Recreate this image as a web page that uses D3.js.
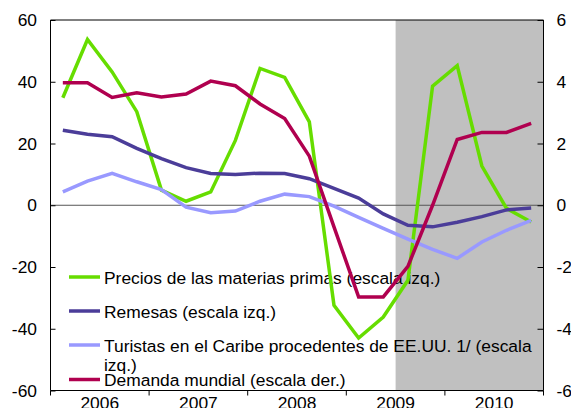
<!DOCTYPE html>
<html>
<head>
<meta charset="utf-8">
<script src="https://cdn.jsdelivr.net/npm/d3@7"></script>
<style>
  body { margin: 0; background: #fff; }
  svg { display: block; font-family: "Liberation Sans", Arial, sans-serif; }
</style>
</head>
<body>
<div id="chart"></div>
<script>
// quarterly data, 2006Q1 - 2010Q4
var years = ["2006", "2007", "2008", "2009", "2010"];
var quarters = [];
years.forEach(function(y) {
    for (var q = 1; q <= 4; q++) quarters.push(y + "Q" + q);
});

var precios = [34.8, 53.7, 43.2, 30.3, 4.9, 1.3, 4.3, 21.0, 44.3, 41.4,
               27.0, -32.4, -43.0, -36.2, -24.3, 38.6, 45.2, 12.7, -1.0, -5.4];
var remesas = [24.3, 23.0, 22.2, 18.4, 15.1, 12.2, 10.3, 10.0, 10.4, 10.3,
               8.6, 5.5, 2.3, -2.8, -6.5, -7.0, -5.5, -3.7, -1.5, -0.9];
var turistas = [4.3, 7.8, 10.3, 7.6, 5.1, -0.6, -2.4, -1.9, 1.3, 3.6,
                2.8, -0.3, -3.9, -7.5, -11.0, -14.3, -17.2, -11.9, -8.1, -4.9];
// right axis
var demanda = [3.97, 3.97, 3.49, 3.64, 3.51, 3.60, 4.02, 3.87, 3.28, 2.81,
               1.59, -0.7, -2.97, -2.97, -1.98, 0.0, 2.13, 2.36, 2.36, 2.65];

var leftTicks = [-60, -40, -20, 0, 20, 40, 60];
var rightTicks = [-6, -4, -2, 0, 2, 4, 6];
var shadeFrom = "2009Q3";

var W = 571, H = 408;
var mLeft = 50.5, mRight = 543.5, mTop = 20, mBottom = 390.5;
var fs = 17.4;

var svg = d3.select("#chart").append("svg")
    .attr("width", W)
    .attr("height", H);

var x = d3.scaleBand().domain(quarters).range([mLeft, mRight]).padding(0);
var yL = d3.scaleLinear().domain([-60, 60]).range([mBottom, mTop]);
var yR = d3.scaleLinear().domain([-6, 6]).range([mBottom, mTop]);

// shaded period
svg.append("rect")
    .attr("x", x(shadeFrom))
    .attr("y", mTop)
    .attr("width", mRight - x(shadeFrom))
    .attr("height", mBottom - mTop)
    .attr("fill", "#c0c0c0");

// zero line
svg.append("line")
    .attr("x1", mLeft).attr("x2", mRight)
    .attr("y1", yL(0)).attr("y2", yL(0))
    .attr("stroke", "#555")
    .attr("stroke-width", 1);

// frame top
svg.append("line")
    .attr("x1", mLeft).attr("x2", mRight)
    .attr("y1", mTop).attr("y2", mTop)
    .attr("stroke", "#000")
    .attr("stroke-width", 1);

var series = [
    { name: "Precios", values: precios, scale: yL, color: "#66dd00" },
    { name: "Remesas", values: remesas, scale: yL, color: "#4b3d99" },
    { name: "Turistas", values: turistas, scale: yL, color: "#9999ff" },
    { name: "Demanda", values: demanda, scale: yR, color: "#b0004f" }
];

var legendItems = [
    { lines: ["Precios de las materias primas (escala izq.)"], color: "#66dd00", y: 277 },
    { lines: ["Remesas (escala izq.)"], color: "#4b3d99", y: 311 },
    { lines: ["Turistas en el Caribe procedentes de EE.UU. 1/ (escala", "izq.)"], color: "#9999ff", y: 345 },
    { lines: ["Demanda mundial (escala der.)"], color: "#b0004f", y: 379.5 }
];

// legend (drawn under the lines, as in the original)
var leg = svg.append("g");
legendItems.forEach(function(d) {
    leg.append("line")
        .attr("x1", 69).attr("x2", 100)
        .attr("y1", d.y).attr("y2", d.y)
        .attr("stroke", d.color)
        .attr("stroke-width", 3.5);
    var t = leg.append("text")
        .attr("x", 104)
        .attr("y", d.y + 6.5)
        .attr("font-size", fs)
        .attr("fill", "#000");
    d.lines.forEach(function(s, i) {
        t.append("tspan")
            .attr("x", 104)
            .attr("dy", i === 0 ? 0 : 19)
            .text(s);
    });
});

series.forEach(function(s) {
    var line = d3.line()
        .x(function(d, i) { return x(quarters[i]) + x.bandwidth() / 2; })
        .y(function(d) { return s.scale(d); });
    svg.append("path")
        .datum(s.values)
        .attr("d", line)
        .attr("fill", "none")
        .attr("stroke", s.color)
        .attr("stroke-width", 3.5)
        .attr("stroke-linejoin", "miter");
});

// left axis, ticks pointing in
var axL = svg.append("g")
    .attr("transform", "translate(" + mLeft + ",0)")
    .call(d3.axisRight(yL).tickValues(leftTicks).tickSize(5));
axL.selectAll("text").remove();
axL.select(".domain").attr("d", "M0," + mTop + "V" + mBottom);
svg.selectAll(".lbl-left")
    .data(leftTicks)
    .enter().append("text")
    .attr("x", 37)
    .attr("y", function(d) { return yL(d) + 6; })
    .attr("text-anchor", "end")
    .attr("font-size", fs)
    .text(function(d) { return d; });

// right axis, ticks pointing in
var axR = svg.append("g")
    .attr("transform", "translate(" + mRight + ",0)")
    .call(d3.axisLeft(yR).tickValues(rightTicks).tickSize(6));
axR.selectAll("text").remove();
axR.select(".domain").attr("d", "M0," + mTop + "V" + mBottom);
svg.selectAll(".lbl-right")
    .data(rightTicks)
    .enter().append("text")
    .attr("x", 556.5)
    .attr("y", function(d) { return yR(d) + 6; })
    .attr("text-anchor", "start")
    .attr("font-size", fs)
    .text(function(d) { return d; });

// bottom axis: ticks at year boundaries, labels centred in each year
var xYear = d3.scaleBand().domain(years).range([mLeft, mRight]).padding(0);
var ax = svg.append("g");
ax.append("line")
    .attr("x1", mLeft).attr("x2", mRight)
    .attr("y1", mBottom).attr("y2", mBottom)
    .attr("stroke", "#000");
var bounds = years.map(function(y) { return xYear(y); }).concat([mRight]);
ax.selectAll(".tk")
    .data(bounds)
    .enter().append("line")
    .attr("x1", function(d) { return d; })
    .attr("x2", function(d) { return d; })
    .attr("y1", mBottom).attr("y2", mBottom + 5)
    .attr("stroke", "#000");
ax.selectAll(".yl")
    .data(years)
    .enter().append("text")
    .attr("x", function(d) { return xYear(d) + xYear.bandwidth() / 2; })
    .attr("y", 409)
    .attr("text-anchor", "middle")
    .attr("font-size", fs)
    .text(function(d) { return d; });

svg.selectAll(".domain, .tick line").attr("stroke", "#000");
</script>
</body>
</html>
